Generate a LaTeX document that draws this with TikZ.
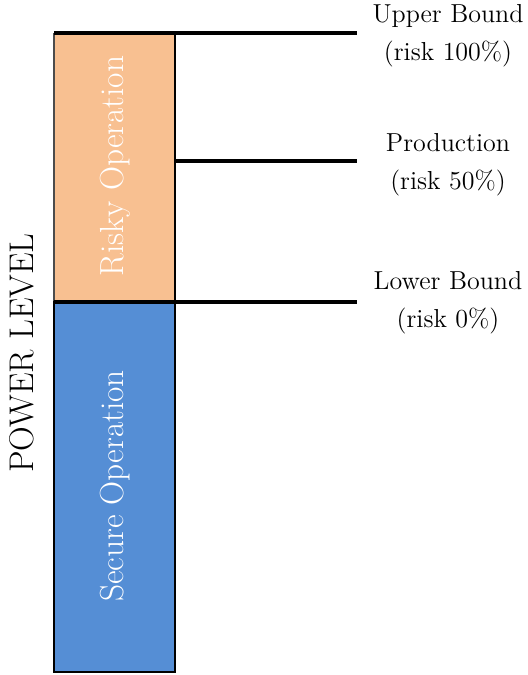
\documentclass[tikz,border=0pt]{standalone}
\usepackage{tikz}
\usetikzlibrary{calc}
\definecolor{riskyfill}{RGB}{248,192,145}
\definecolor{securefill}{RGB}{85,142,213}
\tikzset{
  levelline/.style={line width=2pt},
  boundlabel/.style={align=center, font=\fontsize{14.8}{21.6}\selectfont},
  zonelabel/.style={rotate=90, text=white, font=\fontsize{19}{23}\selectfont}
}

\begin{document}
\begin{tikzpicture}[x=0.02cm,y=-0.02cm]
				\useasboundingbox (0,0) rectangle (527,675);
				
				\draw[fill=riskyfill, draw=black!70, line width=0.6pt] (54,34) rectangle (175,302);
				\draw[fill=securefill, line width=1.2pt] (54,302) rectangle (175,672);
				\draw[line width=1.2pt] (175,34) -- (175,302);
				
				\node[zonelabel] (risky) at (115,166) {Risky Operation};
				\node[zonelabel] (secure) at (115,486) {Secure Operation};
				
				\coordinate (upper) at (357,33);
				\coordinate (prod) at (357,161);
				\coordinate (lower) at (357,302);
				\draw[levelline] (54,33) -- (upper);
				\draw[levelline] (175,161) -- (prod);
				\draw[levelline] (54,302) -- (lower);
				
				\node[boundlabel] (upperlbl) at (448,36) {Upper Bound\\(risk 100\%)};
				\node[boundlabel] (prodlbl) at (448,165) {Production\\(risk 50\%)};
				\node[boundlabel] (lowerlbl) at (448,303) {Lower Bound\\(risk 0\%)};
				
				\node[rotate=90, font=\fontsize{19.5}{23}\selectfont] (power) at (22,353) {POWER LEVEL};
\end{tikzpicture}
\end{document}
